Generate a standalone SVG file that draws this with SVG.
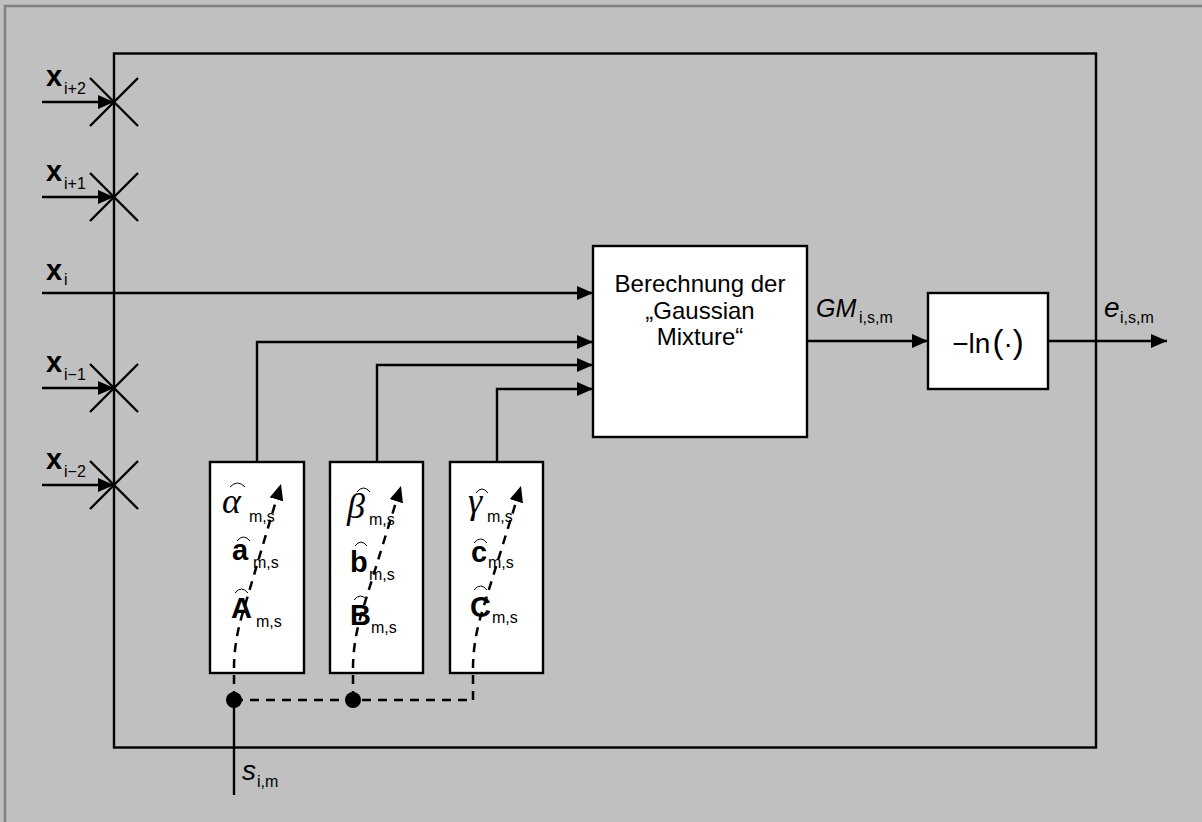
<svg xmlns="http://www.w3.org/2000/svg" width="1202" height="822" viewBox="0 0 1202 822">
<defs>
<style>
.ln{stroke:#000;stroke-width:2.4;fill:none}
.ds{stroke:#000;stroke-width:2.5;fill:none;stroke-dasharray:9 7}
.bx{fill:#fff;stroke:#000;stroke-width:2.4}
.hat{stroke:#000;stroke-width:1;fill:none}
.t{font-family:"Liberation Sans",Arial,sans-serif;fill:#000}
.b{font-weight:bold;font-size:29px}
.sub{font-size:16px}
.it{font-style:italic}
.gr{font-family:"Liberation Serif","Times New Roman",serif;font-style:italic;font-size:36px;fill:#000}
</style>
<marker id="ah" markerUnits="userSpaceOnUse" markerWidth="17" markerHeight="15" refX="16" refY="7" orient="auto">
<path d="M0,0 L16,7 L0,14 z" fill="#000"/>
</marker>
</defs>
<rect x="0" y="0" width="1202" height="822" fill="#c0c0c0"/>
<path d="M5,822 V6 H1202" stroke="#808080" stroke-width="2.5" fill="none"/>

<g id="frame">
<rect x="114" y="53.5" width="982" height="694" class="ln"/>
</g>

<g id="gauss">
<rect x="593" y="246" width="214" height="191" class="bx"/>
<text class="t" font-size="24" text-anchor="middle"><tspan x="700" y="292">Berechnung der</tspan><tspan x="700" y="319">„Gaussian</tspan><tspan x="700" y="345">Mixture“</tspan></text>
</g>

<g id="lnbox">
<rect x="928" y="293" width="120" height="96" class="bx"/>
<text class="t" font-size="28" x="988" y="353" text-anchor="middle">−ln<tspan font-size="33" dx="2">(</tspan>·<tspan font-size="33">)</tspan></text>
</g>

<g id="paramA">
<rect x="210" y="462" width="94" height="211" class="bx"/>
<text class="gr" x="222" y="513">α</text>
<text class="t sub" x="249" y="522">m,s</text>
<text class="t b" x="232" y="560">a</text>
<text class="t sub" x="253" y="568">m,s</text>
<text class="t b" x="231" y="618">A</text>
<text class="t sub" x="256" y="627">m,s</text>
<path class="hat" d="M230,487 Q237.5,479 245,487 M237,541 Q243.5,533 250,541 M235,593 Q241.5,585 248,593"/>
</g>

<g id="paramB">
<rect x="330" y="462" width="93" height="211" class="bx"/>
<text class="gr" x="347" y="518">β</text>
<text class="t sub" x="369" y="525">m,s</text>
<text class="t b" x="350" y="572">b</text>
<text class="t sub" x="369" y="580">m,s</text>
<text class="t b" x="350" y="625">B</text>
<text class="t sub" x="371" y="633">m,s</text>
<path class="hat" d="M357,492 Q363.5,484 370,492 M355,546 Q361,538 367,546 M354,600 Q360.5,592 367,600"/>
</g>

<g id="paramC">
<rect x="450" y="462" width="93" height="211" class="bx"/>
<text class="gr" x="468" y="513">γ</text>
<text class="t sub" x="487" y="522">m,s</text>
<text class="t b" x="471" y="562">c</text>
<text class="t sub" x="488" y="568">m,s</text>
<text class="t b" x="470" y="617">C</text>
<text class="t sub" x="492" y="623">m,s</text>
<path class="hat" d="M476,493 Q482,485 488,493 M474,543 Q480.5,535 487,543 M474,590 Q480.5,582 487,590"/>
</g>

<g id="labels">
<text class="t b" x="46" y="86">x</text><text class="t sub" x="64" y="94">i+2</text>
<text class="t b" x="46" y="181">x</text><text class="t sub" x="64" y="189">i+1</text>
<text class="t b" x="46" y="280">x</text><text class="t sub" x="64" y="285">i</text>
<text class="t b" x="46" y="372">x</text><text class="t sub" x="64" y="380">i−1</text>
<text class="t b" x="46" y="469">x</text><text class="t sub" x="64" y="477">i−2</text>
<text class="t it" font-size="25" x="816" y="317">GM</text><text class="t sub" x="859" y="323">i,s,m</text>
<text class="t it" font-size="28" x="1104" y="317">e</text><text class="t sub" x="1120" y="323">i,s,m</text>
<text class="t it" font-size="28" x="242" y="780">s</text><text class="t sub" x="257" y="787">i,m</text>
</g>

<g id="connectors">
<path class="ln" d="M42,102 H114" marker-end="url(#ah)"/>
<path class="ln" d="M42,197 H114" marker-end="url(#ah)"/>
<path class="ln" d="M42,293 H593" marker-end="url(#ah)"/>
<path class="ln" d="M42,388 H114" marker-end="url(#ah)"/>
<path class="ln" d="M42,485 H114" marker-end="url(#ah)"/>
<path class="ln" d="M90,78 L138,126 M138,78 L90,126"/>
<path class="ln" d="M90,173 L138,221 M138,173 L90,221"/>
<path class="ln" d="M90,364 L138,412 M138,364 L90,412"/>
<path class="ln" d="M90,461 L138,509 M138,461 L90,509"/>
<path class="ln" d="M257,462 V342 H593" marker-end="url(#ah)"/>
<path class="ln" d="M377,462 V365 H593" marker-end="url(#ah)"/>
<path class="ln" d="M497,462 V389 H593" marker-end="url(#ah)"/>
<path class="ln" d="M807,341 H928" marker-end="url(#ah)"/>
<path class="ln" d="M1048,341 H1167" marker-end="url(#ah)"/>
<path class="ln" d="M234,700 V795"/>
<path class="ds" d="M234,700 H473"/>
<path class="ds" d="M234,700 V668 C234,648 238,628 243,612 L281,484" marker-end="url(#ah)"/>
<path class="ds" d="M353,700 V668 C353,648 357,628 362,612 L401,486" marker-end="url(#ah)"/>
<path class="ds" d="M473,700 V668 C473,648 477,628 482,612 L521,486" marker-end="url(#ah)"/>
<circle cx="234" cy="700" r="8" fill="#000"/>
<circle cx="353" cy="700" r="8" fill="#000"/>
</g>
</svg>
